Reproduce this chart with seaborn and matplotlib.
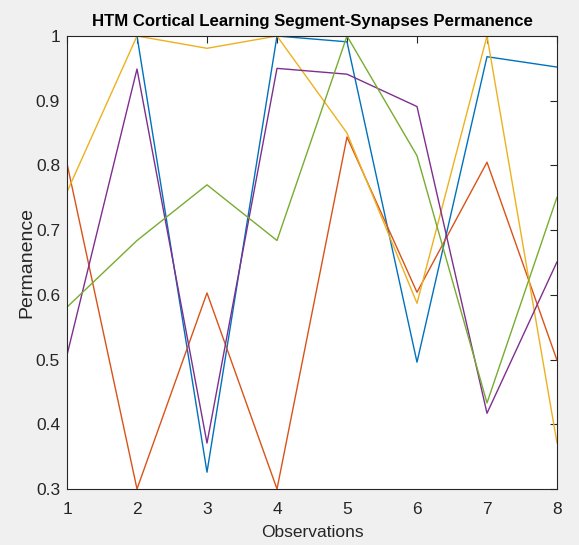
import pandas as pd
import numpy as np
import seaborn as sns
import matplotlib.pyplot as plt

# observations and synapse permanence values
observations = [1, 2, 3, 4, 5, 6, 7, 8]
syn_blue = [1.0, 1.0, 0.326, 1.0, 0.991, 0.496, 0.968, 0.952]
syn_orange = [0.803, 0.30, 0.603, 0.30, 0.844, 0.604, 0.805, 0.499]
syn_yellow = [0.759, 1.0, 0.981, 1.0, 0.85, 0.587, 1.0, 0.371]
syn_purple = [0.507, 0.949, 0.371, 0.95, 0.941, 0.891, 0.417, 0.651]
syn_green = [0.581, 0.684, 0.770, 0.684, 1.0, 0.815, 0.433, 0.751]

series_names = ['S1', 'S2', 'S3', 'S4', 'S5']
series_vals = [syn_blue, syn_orange, syn_yellow, syn_purple, syn_green]
colors = ['#0072BD', '#D95319', '#EDB120', '#7E2F8E', '#77AC30']

rows = []
for name, vals in zip(series_names, series_vals):
    for x, v in zip(observations, vals):
        rows.append({'Observations': x, 'Permanence': v, 'Synapse': name})
df = pd.DataFrame(rows)

sns.set_theme(style='white')
plt.rcParams['font.family'] = ['Liberation Sans', 'DejaVu Sans']

fig = plt.figure(figsize=(5.79, 5.45), dpi=100, facecolor='#F0F0F0')
ax = fig.add_axes([67 / 579, 1 - 489 / 545, 490 / 579, 453 / 545])
ax.set_facecolor('white')

sns.lineplot(data=df, x='Observations', y='Permanence', hue='Synapse',
             palette=colors, linewidth=1.0, legend=False, ax=ax)

ax.set_xlim(1, 8)
ax.set_ylim(0.3, 1.0)
ax.set_xticks(observations)
ax.set_yticks([0.3, 0.4, 0.5, 0.6, 0.7, 0.8, 0.9, 1.0])
ax.set_yticklabels(['0.3', '0.4', '0.5', '0.6', '0.7', '0.8', '0.9', '1'])
ax.tick_params(direction='in', length=5, width=0.8, top=True, right=True,
               labelsize=12.5, colors='#262626')
ax.tick_params(axis='x', pad=9)
ax.tick_params(axis='y', pad=5)
for sp in ax.spines.values():
    sp.set_visible(True)
    sp.set_color('#262626')
    sp.set_linewidth(0.8)

ax.set_xlabel('Observations', fontsize=12.5, color='#262626', labelpad=6)
ax.set_ylabel('Permanence', fontsize=14, color='#262626', labelpad=0)
ax.set_title('HTM Cortical Learning Segment-Synapses Permanence',
             fontsize=12.1, fontweight='bold', color='black', pad=7)

fig.savefig('out.png', dpi=100, facecolor=fig.get_facecolor())
